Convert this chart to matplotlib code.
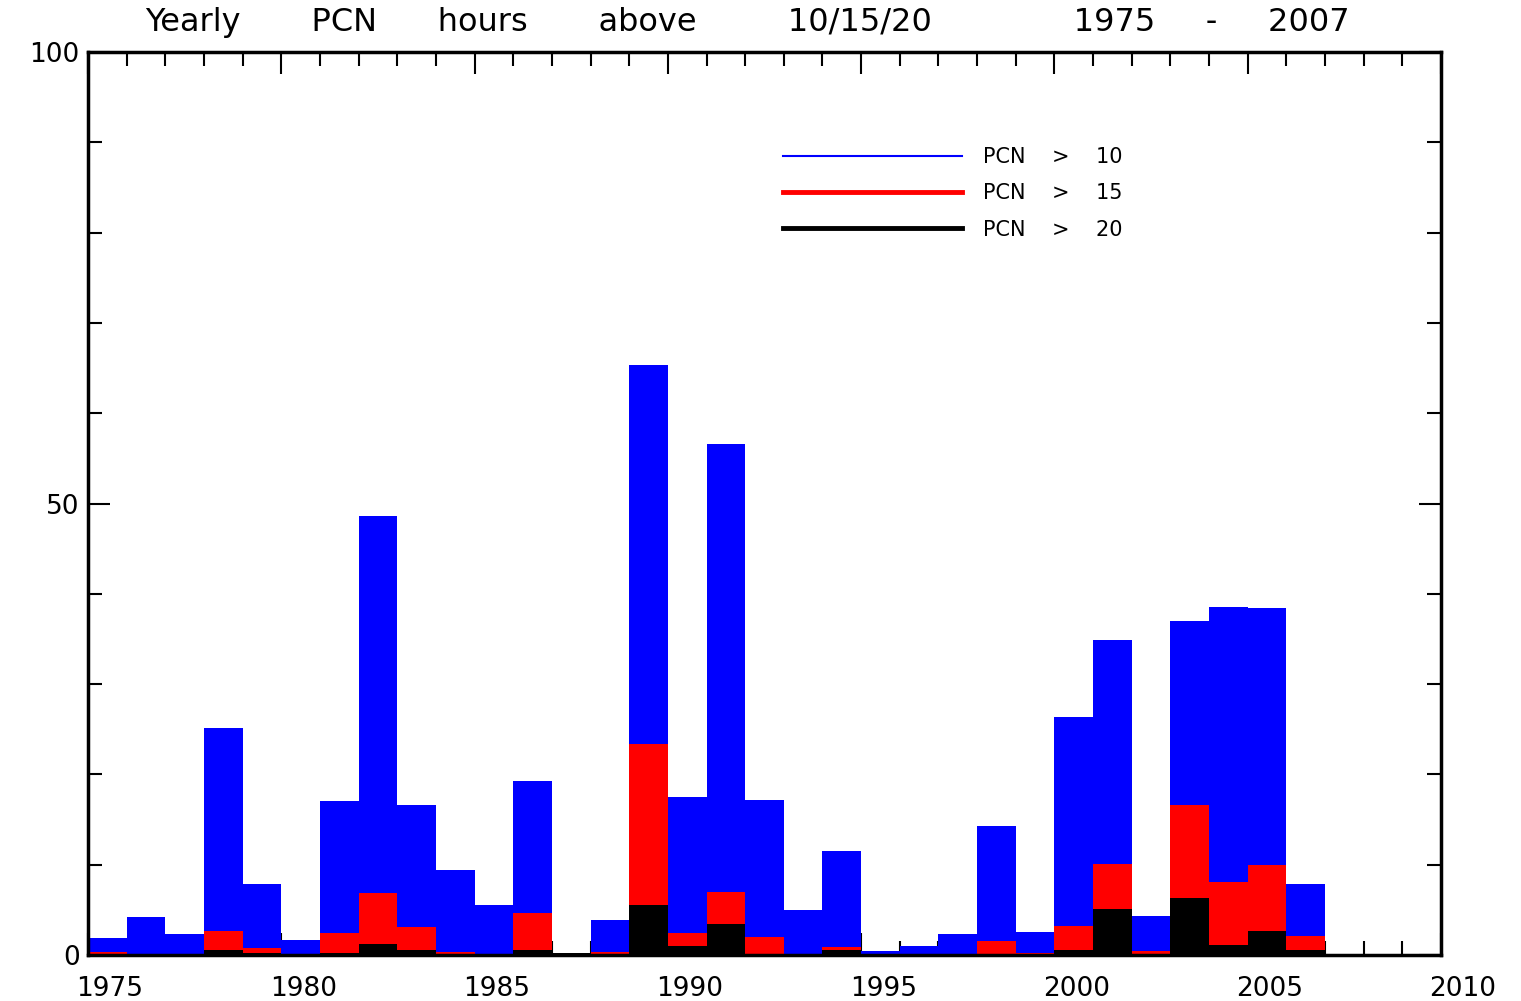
import matplotlib
matplotlib.use("Agg")
import matplotlib.pyplot as plt
from matplotlib.ticker import MultipleLocator
from matplotlib.lines import Line2D
from matplotlib.transforms import ScaledTranslation

years = list(range(1975, 2008))
pcn10 = [1.9, 4.2, 2.3, 25.1, 7.9, 1.7, 17.1, 48.6, 16.6, 9.4, 5.5, 19.3, 0.2,
         3.9, 65.3, 17.5, 56.6, 17.2, 5.0, 11.5, 0.4, 1.0, 2.3, 14.3, 2.5,
         26.4, 34.9, 4.3, 37.0, 38.5, 38.4, 7.9, 0.0]
pcn15 = [0.3, 0.0, 0.0, 2.7, 0.8, 0.0, 2.4, 6.9, 3.1, 0.3, 0.0, 4.7, 0.2,
         0.3, 23.4, 2.4, 7.0, 2.0, 0.0, 0.9, 0.0, 0.0, 0.0, 1.6, 0.2,
         3.2, 10.1, 0.4, 16.6, 8.1, 10.0, 2.1, 0.0]
pcn20 = [0.0, 0.0, 0.0, 0.5, 0.2, 0.0, 0.2, 1.2, 0.5, 0.1, 0.0, 0.5, 0.2,
         0.0, 5.5, 1.0, 3.4, 0.0, 0.0, 0.5, 0.0, 0.0, 0.0, 0.0, 0.0,
         0.5, 5.1, 0.1, 6.3, 1.1, 2.7, 0.5, 0.0]
labels = ["PCN    >    10", "PCN    >    15", "PCN    >    20"]
title = ("Yearly       PCN      hours       above         10/15/20"
         "              1975     -     2007")

fig = plt.figure(figsize=(15.21, 10.01), dpi=100)
ax = fig.add_axes([88/1521, 1-955/1001, (1441-88)/1521, (955-52)/1001])
ax.set_axisbelow(True)

ax.bar(years, pcn10, width=1.0, align='edge', color='#0000ff', edgecolor='none')
ax.bar(years, pcn15, width=1.0, align='edge', color='#ff0000', edgecolor='none')
ax.bar(years, pcn20, width=1.0, align='edge', color='#000000', edgecolor='none')

ax.set_xlim(1975, 2010)
ax.set_ylim(0, 100)
ax.xaxis.set_major_locator(MultipleLocator(5))
ax.xaxis.set_minor_locator(MultipleLocator(1))
ax.yaxis.set_major_locator(MultipleLocator(50))
ax.yaxis.set_minor_locator(MultipleLocator(10))
ax.tick_params(which='both', direction='in', top=True, right=True, width=1.5,
               labelsize=19, colors='black')
ax.tick_params(which='major', length=16)
ax.tick_params(which='minor', length=10)
ax.tick_params(axis='x', which='major', pad=15)
ax.tick_params(axis='y', which='major', pad=6)
for s in ax.spines.values():
    s.set_linewidth(2.5)

offset = ScaledTranslation(0.22, 0, fig.dpi_scale_trans)
for lab in ax.get_xticklabels():
    lab.set_transform(lab.get_transform() + offset)

ax.text(0.042, 1.033, title, transform=ax.transAxes, fontsize=23,
        ha='left', va='center')

handles = [Line2D([], [], color='#0000ff', lw=1.5),
           Line2D([], [], color='#ff0000', lw=3.5),
           Line2D([], [], color='#000000', lw=3.5)]
ax.legend(handles, labels, frameon=False, loc='upper left',
          bbox_to_anchor=((783-88)/1353, 1-(147-52)/903),
          fontsize=15, handlelength=8.6, handletextpad=1.0,
          labelspacing=0.78, borderpad=0, borderaxespad=0)

fig.savefig("out.png", dpi=100)
